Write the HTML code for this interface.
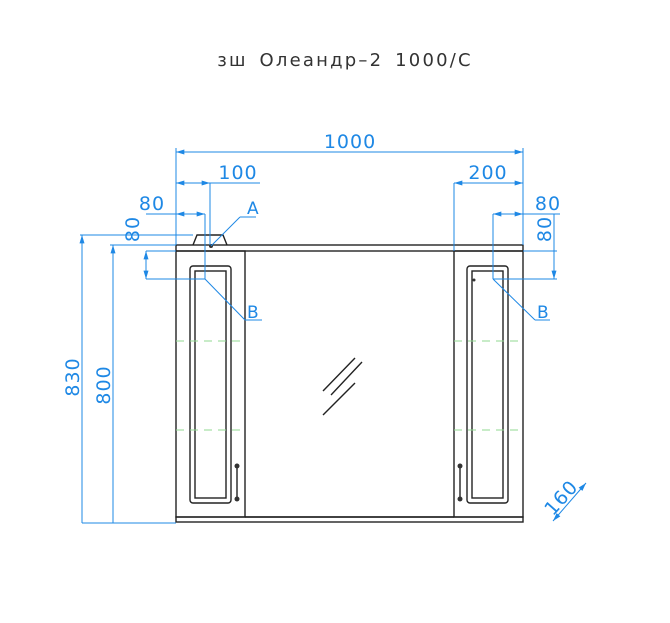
<!DOCTYPE html>
<html><head><meta charset="utf-8"><style>body{margin:0;background:#fff}svg{display:block}</style></head><body>
<svg width="670" height="623" xmlns="http://www.w3.org/2000/svg" font-family="'DejaVu Sans','Liberation Sans',sans-serif">
<defs>
<marker id="ar" viewBox="0 0 10 6" refX="10" refY="3" markerWidth="9" markerHeight="5" orient="auto-start-reverse" markerUnits="userSpaceOnUse"><path d="M0,0L10,3L0,6z" fill="#1e88e5"/></marker>
</defs>
<text x="345" y="66" font-size="18" text-anchor="middle" fill="#333" letter-spacing="2.2" word-spacing="4">зш Олеандр–2 1000/С</text>
<g stroke="#222" stroke-width="1.4" fill="none">
<rect x="176" y="245" width="347" height="6"/>
<path d="M193,245 L197,235 L223,235 L227,245"/>
<rect x="176" y="251" width="69" height="266"/>
<rect x="454" y="251" width="69" height="266"/>
<line x1="245" y1="517" x2="454" y2="517"/>
<rect x="176" y="517" width="347" height="5"/>
<rect x="190" y="266" width="41" height="237" rx="3"/>
<rect x="195" y="271" width="31" height="227"/>
<rect x="467" y="266" width="41" height="237" rx="3"/>
<rect x="472" y="271" width="31" height="227"/>
<line x1="237" y1="468" x2="237" y2="498"/>
<line x1="460" y1="468" x2="460" y2="498"/>
<line x1="323" y1="391" x2="355" y2="358"/>
<line x1="331" y1="395" x2="362" y2="362"/>
<line x1="323" y1="415" x2="355" y2="383"/>
</g>
<g fill="#333"><circle cx="237" cy="466" r="2.5"/><circle cx="237" cy="499" r="2.5"/><circle cx="460" cy="466" r="2.5"/><circle cx="460" cy="499" r="2.5"/><circle cx="211" cy="246" r="2"/><circle cx="474" cy="280" r="1.5"/></g>
<g stroke="#90d890" stroke-width="1" stroke-dasharray="8,6">
<line x1="176" y1="341" x2="245" y2="341"/><line x1="176" y1="430" x2="245" y2="430"/>
<line x1="454" y1="341" x2="523" y2="341"/><line x1="454" y1="430" x2="523" y2="430"/>
</g>
<g stroke="#1e88e5" stroke-width="1" fill="none">
<line x1="176" y1="148" x2="176" y2="245"/><line x1="523" y1="148" x2="523" y2="245"/>
<line x1="176" y1="152" x2="523" y2="152" marker-start="url(#ar)" marker-end="url(#ar)"/>
<line x1="210" y1="183" x2="210" y2="245"/>
<line x1="176" y1="183" x2="210" y2="183" marker-start="url(#ar)" marker-end="url(#ar)"/>
<line x1="210" y1="183" x2="260" y2="183"/>
<line x1="205" y1="214" x2="205" y2="279"/>
<line x1="146" y1="214" x2="176" y2="214"/>
<line x1="176" y1="214" x2="205" y2="214" marker-start="url(#ar)" marker-end="url(#ar)"/>
<line x1="146" y1="251" x2="176" y2="251"/><line x1="146" y1="279" x2="205" y2="279"/>
<line x1="146" y1="251" x2="146" y2="279" marker-start="url(#ar)" marker-end="url(#ar)"/>
<line x1="80" y1="235" x2="193" y2="235"/><line x1="110" y1="245" x2="176" y2="245"/>
<line x1="82" y1="235" x2="82" y2="523" marker-start="url(#ar)"/>
<line x1="113" y1="245" x2="113" y2="523" marker-start="url(#ar)"/>
<line x1="82" y1="523" x2="176" y2="523"/>
<line x1="211" y1="246" x2="240" y2="217"/><line x1="240" y1="217" x2="256" y2="217"/>
<line x1="205" y1="279" x2="245" y2="320"/><line x1="245" y1="320" x2="262" y2="320"/>
<line x1="454" y1="183" x2="454" y2="251"/>
<line x1="454" y1="183" x2="523" y2="183" marker-start="url(#ar)" marker-end="url(#ar)"/>
<line x1="493" y1="214" x2="493" y2="279"/>
<line x1="493" y1="214" x2="523" y2="214" marker-start="url(#ar)" marker-end="url(#ar)"/>
<line x1="523" y1="214" x2="560" y2="214"/>
<line x1="523" y1="251" x2="557" y2="251"/><line x1="493" y1="279" x2="557" y2="279"/>
<line x1="554" y1="214" x2="554" y2="279" marker-end="url(#ar)"/>
<line x1="493" y1="279" x2="535" y2="320"/><line x1="535" y1="320" x2="550" y2="320"/>
<line x1="553" y1="521" x2="586" y2="483" marker-start="url(#ar)" marker-end="url(#ar)"/>
</g>
<g fill="#1e88e5" font-size="19" letter-spacing="1">
<text x="350" y="148" text-anchor="middle">1000</text>
<text x="238" y="179" text-anchor="middle">100</text>
<text x="152" y="210" text-anchor="middle">80</text>
<text x="247" y="214" font-size="17">A</text>
<text x="247" y="318" font-size="17">B</text>
<text x="488" y="179" text-anchor="middle">200</text>
<text x="548" y="210" text-anchor="middle">80</text>
<text x="537" y="318" font-size="17">B</text>
<text transform="translate(139,229) rotate(-90)" text-anchor="middle">80</text>
<text transform="translate(551,229) rotate(-90)" text-anchor="middle">80</text>
<text transform="translate(79,377) rotate(-90)" text-anchor="middle">830</text>
<text transform="translate(110,385) rotate(-90)" text-anchor="middle">800</text>
<text transform="translate(566,502) rotate(-48)" text-anchor="middle">160</text>
</g>
</svg>
</body></html>
